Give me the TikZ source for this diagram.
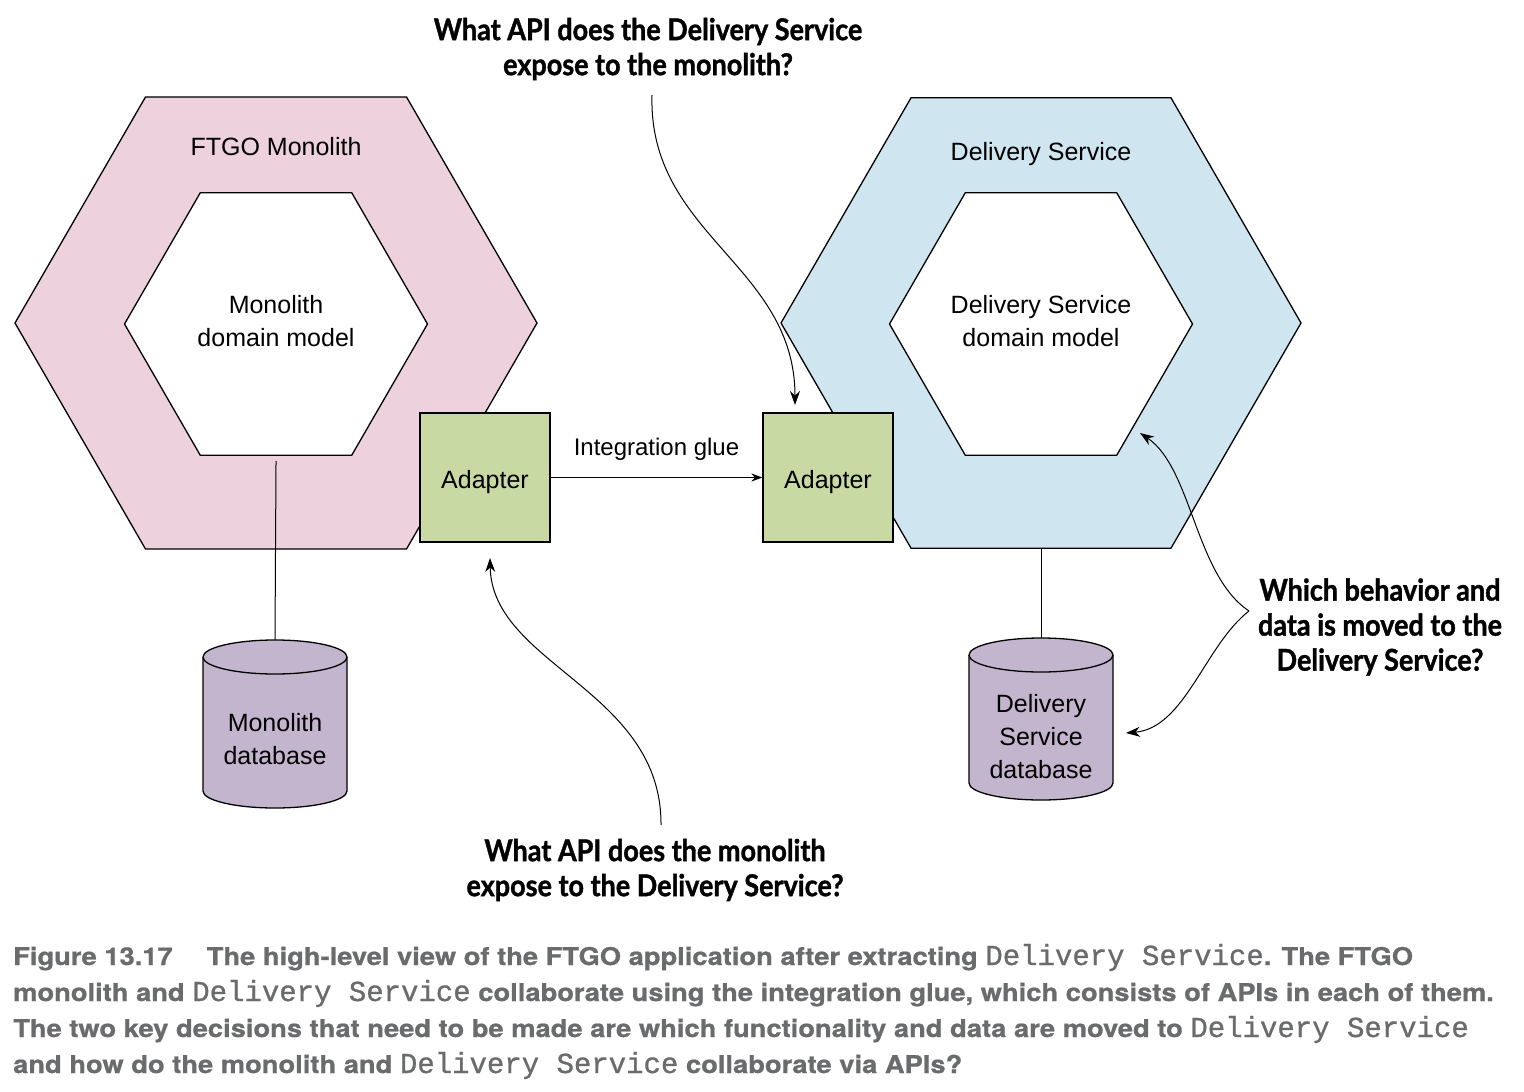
\documentclass[tikz,border=0pt]{standalone}
\usepackage{fontspec}
\setmainfont{Liberation Sans}
\newfontfamily\callfont[FakeStretch=0.9, FakeBold=1.2]{Lato}
\newfontfamily\capfont[FakeStretch=1.115, FakeBold=0.8]{TeX Gyre Heros}
\newfontfamily\capmono[FakeBold=0.9]{Liberation Mono}
\usetikzlibrary{shapes.geometric,arrows.meta}
\definecolor{monofill}{HTML}{EDD1DC}
\definecolor{dsfill}{HTML}{CFE5EF}
\definecolor{adfill}{HTML}{C8D9A3}
\definecolor{dbfill}{HTML}{C4B5CE}
\definecolor{capgrey}{HTML}{6A6B6D}
\newcommand\dsmono{{\capmono\mdseries\fontsize{29}{36}\selectfont Delivery Service}}
\begin{document}
\begin{tikzpicture}[x=1pt,y=-1pt,
  every node/.style={font=\fontsize{25}{33}\selectfont, text=black},
  hex/.style={regular polygon, regular polygon sides=6, draw, line width=1.3pt, inner sep=0pt, outer sep=0pt, align=center},
  adapter/.style={draw, line width=1.3pt, fill=adfill, minimum width=130pt, minimum height=129pt, inner sep=0pt, text height=26pt, text depth=5pt},
  conn/.style={line width=1pt},
  arr/.style={line width=1pt, -{Stealth[length=14pt,width=10pt]}},
  callout/.style={font=\callfont\bfseries\fontsize{30}{35}\selectfont, align=center},
  capline/.style={anchor=base west, font=\capfont\bfseries\fontsize{24.5}{36}\selectfont, text=capgrey, inner sep=0pt}]
\useasboundingbox (0,0) rectangle (1524,1092);
\fill[white] (0,0) rectangle (1524,1092);

% hexagons
\node[hex, fill=monofill, minimum size=522pt] (mono) at (276,323) {};
\node (monolbl) at (276,147) {FTGO Monolith};
\node[hex, fill=white, minimum size=303pt, text depth=6pt] (monodm) at (276,324) {Monolith\\domain model};

\node[hex, fill=dsfill, minimum size=520pt] (ds) at (1041,323) {};
\node (dslbl) at (1041,154) {Delivery Service};
\node[hex, fill=white, minimum size=303pt, text depth=6pt] (dsdm) at (1041,324) {Delivery Service\\domain model};

% databases
\coordinate (mdbtop) at (275,640);
\draw[line width=1.3pt, fill=dbfill] (203,657) -- (203,791) arc[start angle=180, end angle=0, x radius=72, y radius=17] -- (347,657);
\draw[line width=1.3pt, fill=dbfill] (275,657) ellipse [x radius=72, y radius=17];
\node[align=center] (mdb) at (275,739) {Monolith\\database};

\coordinate (ddbtop) at (1041,638);
\draw[line width=1.3pt, fill=dbfill] (969,655) -- (969,783) arc[start angle=180, end angle=0, x radius=72, y radius=17] -- (1113,655);
\draw[line width=1.3pt, fill=dbfill] (1041,655) ellipse [x radius=72, y radius=17];
\node[align=center] (ddb) at (1041,737) {Delivery\\Service\\database};

\draw[conn] ([yshift=-6pt]monodm.south) -- (mdbtop);
\draw[conn] (ds.south) -- (ddbtop);

% adapters
\node[adapter] (ad1) at (485,477.5) {Adapter};
\node[adapter] (ad2) at (828,477.5) {Adapter};
\draw[conn, -{Stealth[length=11pt,width=8pt]}] (ad1) -- node[above=13pt, font=\fontsize{24}{30}\selectfont] (glue) {Integration glue} (ad2);

% callouts
\node[callout] (q1) at (648,49) {What API does the Delivery Service\\expose to the monolith?};
\node[callout] (q2) at (655,870) {What API does the monolith\\expose to the Delivery Service?};
\node[callout] (q3) at (1380,627) {Which behavior and\\data is moved to the\\Delivery Service?};

\coordinate (q1s) at (652,95);
\coordinate (q1e) at (795,405);
\coordinate (q2s) at (661,825);
\coordinate (q2e) at (490,558);
\coordinate (q3s) at (1249,611);
\coordinate (q3a) at (1140,433);
\coordinate (q3b) at (1126,733);

\draw[arr] (q1s) .. controls (648,235) and (795,265) .. (q1e);
\draw[arr] (q2s) .. controls (662,690) and (492,665) .. (q2e);
\draw[arr] (q3s) .. controls (1195,575) and (1192,468) .. (q3a);
\draw[arr] (q3s) .. controls (1205,645) and (1185,728) .. (q3b);

% caption
\node[capline] (c1) at (13,965) {Figure 13.17\hspace{34pt}The high-level view of the FTGO application after extracting \dsmono. The FTGO};
\node[capline] (c2) at (13,1001) {monolith and \dsmono\ collaborate using the integration glue, which consists of APIs in each of them.};
\node[capline] (c3) at (13,1037) {The two key decisions that need to be made are which functionality and data are moved to \dsmono};
\node[capline] (c4) at (13,1073) {and how do the monolith and \dsmono\ collaborate via APIs?};
\end{tikzpicture}
\end{document}
